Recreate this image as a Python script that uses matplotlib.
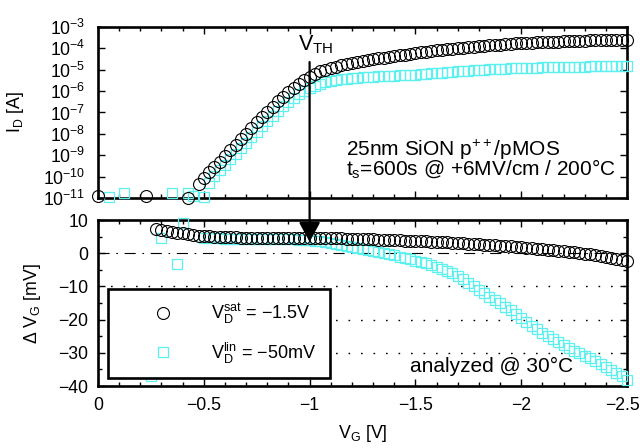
import matplotlib
matplotlib.use("Agg")
import matplotlib.pyplot as plt
from matplotlib.lines import Line2D
from matplotlib.patches import ConnectionPatch, ArrowStyle
from matplotlib.ticker import MultipleLocator, NullLocator, LogLocator
from matplotlib.transforms import ScaledTranslation

plt.rcParams['font.family'] = ['Liberation Sans', 'DejaVu Sans']
plt.rcParams['mathtext.fontset'] = 'custom'
plt.rcParams['mathtext.rm'] = 'Liberation Sans'
plt.rcParams['mathtext.it'] = 'Liberation Sans:italic'
plt.rcParams['mathtext.bf'] = 'Liberation Sans:bold'

# ---------------- data ----------------
# gate-voltage sweep points (V)
vg_sweep = [-0.275, -0.3, -0.325, -0.35, -0.375, -0.4, -0.425, -0.45, -0.475, -0.5,
            -0.525, -0.55, -0.575, -0.6, -0.625, -0.65, -0.675, -0.7, -0.725, -0.75,
            -0.775, -0.8, -0.825, -0.85, -0.875, -0.9, -0.925, -0.95, -0.975, -1.0,
            -1.025, -1.05, -1.075, -1.1, -1.125, -1.15, -1.175, -1.2, -1.225, -1.25,
            -1.275, -1.3, -1.325, -1.35, -1.375, -1.4, -1.425, -1.45, -1.475, -1.5,
            -1.525, -1.55, -1.575, -1.6, -1.625, -1.65, -1.675, -1.7, -1.725, -1.75,
            -1.775, -1.8, -1.825, -1.85, -1.875, -1.9, -1.925, -1.95, -1.975, -2.0,
            -2.025, -2.05, -2.075, -2.1, -2.125, -2.15, -2.175, -2.2, -2.225, -2.25,
            -2.275, -2.3, -2.325, -2.35, -2.375, -2.4, -2.425, -2.45, -2.475, -2.5]

# Top panel: log10(I_D / A)
vg_sat_top_low = [0.0, -0.225, -0.425, -0.475]
logid_sat_low = [-10.9, -10.9, -10.98, -10.35]
logid_sat = [-10.08, -9.80, -9.55, -9.30, -9.02, -8.76, -8.50, -8.25, -8.00, -7.73,
             -7.46, -7.21, -6.97, -6.72, -6.48, -6.26, -6.04, -5.84, -5.65, -5.48,
             -5.32, -5.19, -5.08, -4.99, -4.92, -4.85, -4.79, -4.73, -4.68, -4.63,
             -4.59, -4.55, -4.51, -4.47, -4.43, -4.40, -4.36, -4.32, -4.29, -4.25,
             -4.21, -4.18, -4.15, -4.12, -4.09, -4.06, -4.04, -4.01, -3.99, -3.97,
             -3.95, -3.92, -3.90, -3.88, -3.86, -3.84, -3.82, -3.80, -3.79, -3.77,
             -3.76, -3.74, -3.73, -3.72, -3.71, -3.70, -3.69, -3.68, -3.67, -3.66,
             -3.65, -3.65, -3.64, -3.63, -3.63, -3.62, -3.62, -3.61, -3.61, -3.60,
             -3.60]  # from -0.5 V

vg_lin_top_low = [-0.05, -0.125, -0.35, -0.425, -0.45, -0.5]
logid_lin_low = [-10.95, -10.77, -10.77, -10.77, -10.9, -10.95]
logid_lin = [-10.28, -9.98, -9.70, -9.45, -9.19, -8.93, -8.67, -8.42, -8.16, -7.90,
             -7.64, -7.40, -7.16, -6.92, -6.71, -6.50, -6.31, -6.14, -5.99, -5.85,
             -5.74, -5.65, -5.58, -5.53, -5.49, -5.45, -5.42, -5.40, -5.37, -5.35,
             -5.33, -5.32, -5.30, -5.29, -5.28, -5.27, -5.26, -5.25, -5.24, -5.23,
             -5.21, -5.19, -5.17, -5.15, -5.13, -5.11, -5.09, -5.07, -5.05, -5.04,
             -5.02, -5.01, -4.99, -4.98, -4.97, -4.96, -4.95, -4.94, -4.93, -4.92,
             -4.91, -4.90, -4.90, -4.89, -4.88, -4.88, -4.87, -4.87, -4.86, -4.86,
             -4.85, -4.85, -4.84, -4.84, -4.84, -4.83, -4.83, -4.83, -4.82, -4.82]  # from -0.525 V

# Bottom panel: Delta V_G (mV)
dvg_sat = [7.3, 7.0, 6.8, 6.5, 6.2, 6.0, 5.7, 5.5, 5.3, 5.2,
           5.1, 5.0, 4.9, 4.9, 4.8, 4.8, 4.7, 4.7, 4.7, 4.6,
           4.6, 4.6, 4.6, 4.6, 4.6, 4.6, 4.6, 4.6, 4.6, 4.6,
           4.6, 4.6, 4.6, 4.6, 4.5, 4.5, 4.4, 4.4, 4.3, 4.3,
           4.2, 4.2, 4.1, 4.1, 4.0, 4.0, 3.9, 3.8, 3.8, 3.7,
           3.7, 3.6, 3.5, 3.5, 3.4, 3.3, 3.2, 3.1, 3.0, 2.9,
           2.8, 2.7, 2.6, 2.5, 2.4, 2.3, 2.2, 2.1, 2.0, 1.9,
           1.7, 1.6, 1.4, 1.3, 1.1, 1.0, 0.8, 0.7, 0.5, 0.3,
           0.1, -0.1, -0.3, -0.5, -0.8, -1.0, -1.3, -1.6, -1.9, -2.3]  # from -0.275 V

vg_lin_bot_low = [-0.25, -0.3, -0.375, -0.4]
dvg_lin_low = [-37.0, 4.7, -3.2, 9.1]
dvg_lin = [4.5, 4.5, 4.5, 4.5, 4.4, 4.4, 4.4, 4.4, 4.4, 4.4,
           4.4, 4.3, 4.3, 4.3, 4.3, 4.3, 4.3, 4.2, 4.1, 4.0,
           3.9, 3.8, 3.6, 3.4, 3.1, 2.9, 2.6, 2.3, 2.0, 1.7,
           1.4, 1.1, 0.8, 0.5, 0.1, -0.2, -0.6, -1.0, -1.3, -1.7,
           -2.2, -2.6, -3.1, -3.6, -4.2, -4.8, -5.4, -6.1, -6.9, -7.9,
           -8.9, -9.9, -11.0, -12.1, -13.1, -14.1, -15.0, -16.1, -17.2, -18.4,
           -19.6, -20.7, -21.8, -22.9, -24.0, -24.9, -25.8, -26.7, -27.6, -28.5,
           -29.4, -30.2, -31.0, -31.7, -32.5, -33.3, -34.2, -35.1, -36.0, -37.0,
           -38.2]  # from -0.5 V

xticks = [0, -0.5, -1, -1.5, -2, -2.5]
xticklabels = ['0', '\u22120.5', '\u22121', '\u22121.5', '\u22122', '\u22122.5']
yticks_bot = [-40, -30, -20, -10, 0, 10]
grid_levels = [-10, -20, -30]
vth_v = -1.0

label_sat = r'$\mathrm{V_D^{sat}}$ = $-$1.5V'
label_lin = r'$\mathrm{V_D^{lin}}$ = $-$50mV'

# ---------------- figure ----------------
W, H = 640, 448
fig = plt.figure(figsize=(W / 100, H / 100), dpi=100)
ax1 = fig.add_axes([98 / W, 1 - 198 / H, 529 / W, 171 / H])
ax2 = fig.add_axes([98 / W, 1 - 386 / H, 529 / W, 166 / H])

cyan = '#5cf0f0'
circ_kw = dict(marker='o', ms=8.6, mfc='none', mec='black', mew=0.8, ls='none', clip_on=False)
sq_kw = dict(marker='s', ms=7.6, mfc='none', mec=cyan, mew=0.9, ls='none', clip_on=False)

x_sat_top = vg_sat_top_low + vg_sweep[9:]
y_sat_top = [10 ** v for v in logid_sat_low + logid_sat]
x_lin_top = vg_lin_top_low + vg_sweep[10:]
y_lin_top = [10 ** v for v in logid_lin_low + logid_lin]

ax1.plot(x_lin_top, y_lin_top, zorder=3, **sq_kw)
ax1.plot(x_sat_top, y_sat_top, zorder=4, **circ_kw)
ax1.set_yscale('log')
ax1.set_ylim(1e-11, 1e-3)
ax1.set_xlim(0, -2.5)
ax1.yaxis.set_major_locator(LogLocator(base=10, numticks=20))
ax1.yaxis.set_minor_locator(NullLocator())
ax1.set_xticks(xticks)
ax1.set_xticklabels([])
ax1.xaxis.set_minor_locator(MultipleLocator(0.1))

ax2.plot(vg_lin_bot_low + vg_sweep[9:], dvg_lin_low + dvg_lin, zorder=3, **sq_kw)
ax2.plot(vg_sweep, dvg_sat, zorder=4, **circ_kw)
ax2.set_xlim(0, -2.5)
ax2.set_ylim(-40, 10)
ax2.set_xticks(xticks)
ax2.set_xticklabels(xticklabels)
ax2.set_yticks(yticks_bot)
ax2.xaxis.set_minor_locator(MultipleLocator(0.1))
ax2.yaxis.set_minor_locator(MultipleLocator(5))
ax2.axhline(0, color='black', lw=0.8, ls=(0, (10, 6, 1.5, 6)), zorder=1)
for g in grid_levels:
    ax2.axhline(g, color='black', lw=1.0, ls=(0, (1.2, 7.8)), zorder=1)

for ax in (ax1, ax2):
    for s in ax.spines.values():
        s.set_linewidth(1.9)
    ax.tick_params(which='both', direction='in', top=True, right=True,
                   labelsize=12.7, width=1.0)
    ax.tick_params(which='major', length=5)
    ax.tick_params(which='minor', length=3)
ax1.tick_params(axis='y', pad=9)
ax2.tick_params(axis='y', pad=7)
ax2.tick_params(axis='x', pad=8)

# nudge last x tick label so it stays inside the canvas
last = ax2.get_xticklabels()[-1]
last.set_transform(last.get_transform() + ScaledTranslation(-5 / 100, 0, fig.dpi_scale_trans))

ax1.set_ylabel(r'$\mathrm{I_D}$ [A]', fontsize=12.8)
ax1.yaxis.set_label_coords(-0.136, 0.5)
ax2.set_ylabel(r'$\Delta\ \mathrm{V_G}$ [mV]', fontsize=12.8)
ax2.yaxis.set_label_coords(-0.104, 0.5)
ax2.set_xlabel(r'$\mathrm{V_G}$ [V]', fontsize=12.8, va='top')
ax2.xaxis.set_label_coords(0.5, -0.223)

# legend
handles = [Line2D([], [], marker='o', ms=8.6, mfc='none', mec='black', mew=0.8, ls='none'),
           Line2D([], [], marker='s', ms=7.6, mfc='none', mec=cyan, mew=0.9, ls='none')]
leg = ax2.legend(handles, [label_sat, label_lin], loc='upper left',
                 bbox_to_anchor=(10 / 529, (386 - 289) / 166, 222 / 529, 0),
                 mode='expand', borderaxespad=0, fontsize=13, fancybox=False,
                 framealpha=1, edgecolor='black', borderpad=0.7,
                 labelspacing=0.8, handlelength=4.7, handletextpad=0.3)
leg.get_frame().set_linewidth(1.9)
leg.set_zorder(10)

# annotations
fig.text(346 / W, 1 - 156 / H, '25nm SiON p$^{\\mathrm{++}}$/pMOS', fontsize=15, va='baseline')
fig.text(346 / W, 1 - 175 / H, r'$\mathrm{t_s}$=600s @ +6MV/cm / 200°C', fontsize=15, va='baseline')
fig.text(410 / W, 1 - 372 / H, 'analyzed @ 30°C', fontsize=15, va='baseline')
fig.text(298 / W, 1 - 50 / H, r'$\mathrm{V_{TH}}$', fontsize=15.5, va='baseline')

con = ConnectionPatch(xyA=(vth_v, 0.795), coordsA=ax1.get_xaxis_transform(),
                      xyB=(vth_v, 3.4), coordsB=ax2.transData,
                      arrowstyle=ArrowStyle('-|>', head_length=1.2, head_width=0.65),
                      mutation_scale=10, lw=1.6, color='black', zorder=20)
fig.add_artist(con)

fig.savefig('out.png', dpi=100)
